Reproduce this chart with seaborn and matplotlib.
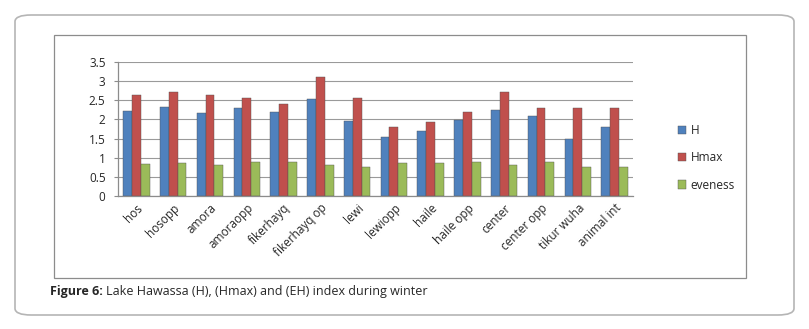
import matplotlib
matplotlib.use("Agg")
import matplotlib.pyplot as plt
from matplotlib.patches import FancyBboxPatch, Rectangle
import seaborn as sns
import pandas as pd

sites = ["hos", "hosopp", "amora", "amoraopp", "fikerhayq", "fikerhayq op", "lewi",
         "lewiopp", "haile", "haile opp", "center", "center opp", "tikur wuha", "animal int"]
h_vals = [2.22, 2.33, 2.16, 2.30, 2.20, 2.54, 1.95, 1.55, 1.71, 1.99, 2.24, 2.10, 1.50, 1.79]
hmax_vals = [2.64, 2.71, 2.64, 2.56, 2.40, 3.10, 2.57, 1.79, 1.93, 2.19, 2.71, 2.30, 2.30, 2.30]
even_vals = [0.84, 0.85, 0.82, 0.88, 0.90, 0.81, 0.75, 0.85, 0.85, 0.90, 0.82, 0.90, 0.77, 0.77]
series_names = ["H", "Hmax", "eveness"]
palette = ["#4F81BD", "#C0504D", "#9BBB59"]
yticks = [0, 0.5, 1, 1.5, 2, 2.5, 3, 3.5]
caption_bold = "Figure 6:"
caption_rest = "Lake Hawassa (H), (Hmax) and (EH) index during winter"

df = pd.DataFrame({
    "site": sites * 3,
    "series": [series_names[0]] * len(sites) + [series_names[1]] * len(sites) + [series_names[2]] * len(sites),
    "value": h_vals + hmax_vals + even_vals,
})

sns.set_style("white")
plt.rcParams["font.family"] = ["Open Sans", "DejaVu Sans"]

W, H = 809, 329
fig = plt.figure(figsize=(W / 100, H / 100), dpi=100)

# outer rounded frame and inner chart frame, kept behind the axes
outer = FancyBboxPatch((15 / W, 14 / H), 779 / W, 300 / H,
                       boxstyle="round,pad=0,rounding_size=0.02",
                       transform=fig.transFigure, facecolor="white",
                       edgecolor="#b5b5b5", linewidth=1.2, zorder=-2)
fig.patches.append(outer)
inner = Rectangle((54 / W, (H - 278) / H), (746 - 54) / W, (278 - 35) / H,
                  transform=fig.transFigure, facecolor="white",
                  edgecolor="#8c8c8c", linewidth=0.9, zorder=-1)
fig.patches.append(inner)

ax = fig.add_axes([118 / W, (H - 196) / H, (633 - 118) / W, (196 - 62) / H])
ax.set_facecolor("none")
sns.barplot(data=df, x="site", y="value", hue="series", palette=palette,
            width=0.72, gap=0.0, ax=ax, edgecolor="#505050", linewidth=0.3,
            saturation=1)

ax.set_ylim(0, 3.5)
ax.set_xlim(-0.5, len(sites) - 0.5)
ax.set_yticks(yticks)
ax.set_yticklabels([f"{t:g}" for t in yticks], fontsize=8.5)
ax.yaxis.grid(True, color="#9a9a9a", linewidth=0.8)
ax.set_axisbelow(True)
ax.set_xlabel("")
ax.set_ylabel("")
ax.set_xticks(range(len(sites)))
ax.set_xticklabels(sites, rotation=45, ha="right", rotation_mode="anchor", fontsize=8.5)
ax.tick_params(axis="x", length=0, pad=4)
ax.tick_params(axis="y", length=3, color="#8c8c8c", pad=6, left=True)
for side in ["top", "right"]:
    ax.spines[side].set_visible(False)
for side in ["left", "bottom"]:
    ax.spines[side].set_color("#8c8c8c")
    ax.spines[side].set_linewidth(0.9)

leg = ax.legend(loc="center left", bbox_to_anchor=((667 - 118) / (633 - 118), (196 - 158) / 134),
                frameon=False, fontsize=8.5, handlelength=0.7, handleheight=0.7,
                handletextpad=0.4, labelspacing=1.2)

fig.text(50 / W, (H - 292) / H, caption_bold, fontsize=9, fontweight="bold",
         va="center", ha="left")
fig.text(106 / W, (H - 292) / H, caption_rest, fontsize=9, va="center", ha="left")

fig.savefig("out.png", dpi=100)
